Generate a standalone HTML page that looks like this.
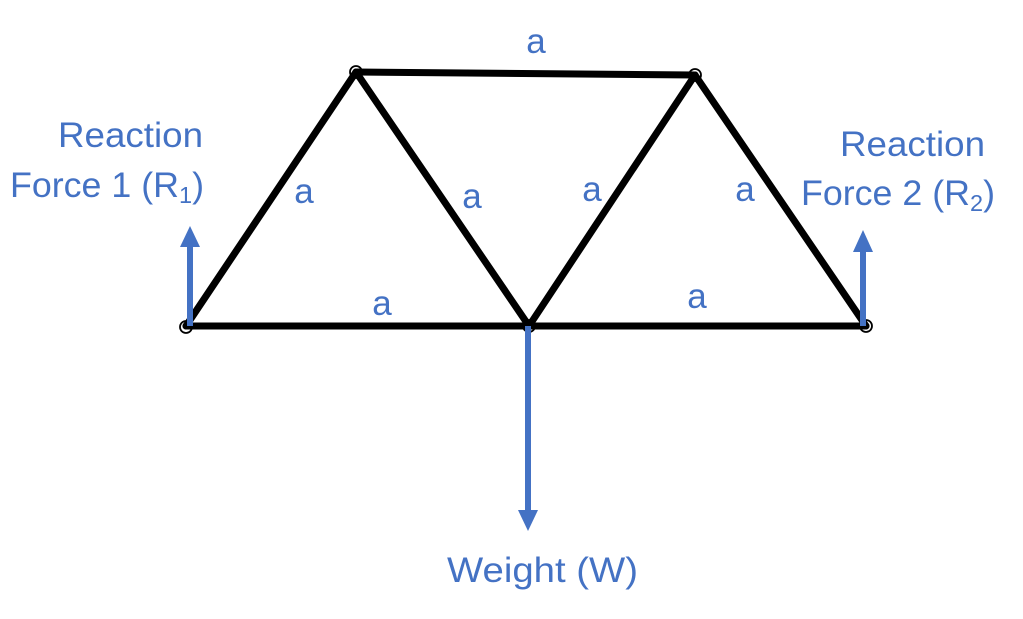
<!DOCTYPE html>
<html><head><meta charset="utf-8"><style>html,body{margin:0;padding:0;background:#fff}svg{display:block}</style></head>
<body>
<svg width="1023" height="619" viewBox="0 0 1023 619" xmlns="http://www.w3.org/2000/svg">
<g stroke="#000" stroke-width="1.8" fill="none">
<circle cx="186" cy="327" r="6"/><circle cx="356" cy="72" r="6"/><circle cx="695" cy="75" r="6"/>
<circle cx="529" cy="326" r="6"/><circle cx="866" cy="326" r="6"/>
</g>
<g stroke="#000" stroke-width="7" stroke-linecap="round" fill="none">
<line x1="186" y1="326" x2="866" y2="326"/>
<line x1="356" y1="72" x2="695" y2="75"/>
<line x1="186" y1="326" x2="356" y2="72"/>
<line x1="356" y1="72" x2="529" y2="326"/>
<line x1="529" y1="326" x2="695" y2="75"/>
<line x1="695" y1="75" x2="866" y2="326"/>
</g>
<g fill="#4472C4" stroke="none">
<rect x="187" y="245" width="6" height="81"/><polygon points="180,247 200,247 190,226"/>
<rect x="860" y="250" width="6" height="76"/><polygon points="853,252 873,252 863,230"/>
<rect x="525" y="326" width="6" height="186"/><polygon points="518,510 538,510 528,531"/>
</g>
<g fill="#4472C4" font-family="Liberation Sans, sans-serif" font-size="35">
<text x="58" y="147" textLength="145" lengthAdjust="spacingAndGlyphs">Reaction</text>
<text x="10" y="197" textLength="194" lengthAdjust="spacingAndGlyphs">Force 1 (R<tspan font-size="23" dy="6">1</tspan><tspan dy="-6">)</tspan></text>
<text x="840" y="156" textLength="145" lengthAdjust="spacingAndGlyphs">Reaction</text>
<text x="801" y="205" textLength="194" lengthAdjust="spacingAndGlyphs">Force 2 (R<tspan font-size="23" dy="6">2</tspan><tspan dy="-6">)</tspan></text>
<text x="447" y="582" textLength="191" lengthAdjust="spacingAndGlyphs">Weight (W)</text>
<g text-anchor="middle">
<text x="536" y="53">a</text>
<text x="304" y="203">a</text>
<text x="472" y="208">a</text>
<text x="592" y="201">a</text>
<text x="745" y="201">a</text>
<text x="382" y="315">a</text>
<text x="697" y="308">a</text>
</g>
</g>
</svg>
</body></html>
